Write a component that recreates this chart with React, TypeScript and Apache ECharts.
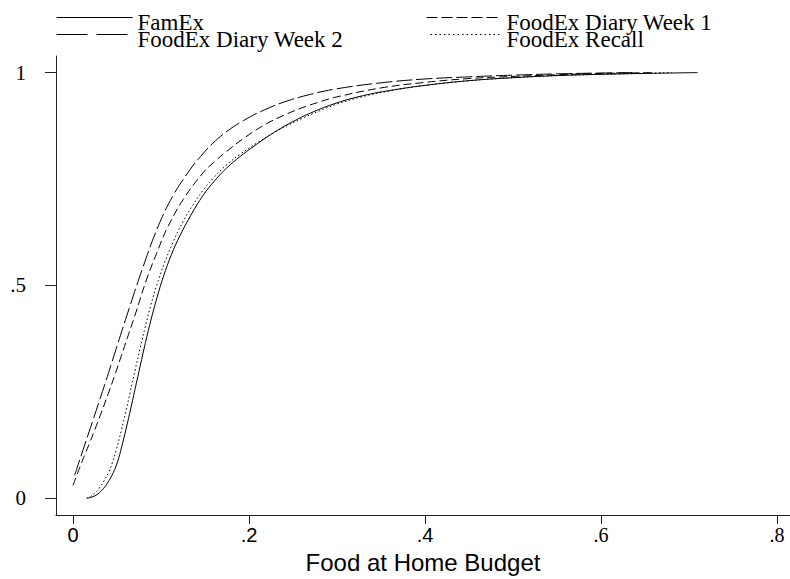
import React, { useEffect, useRef } from "react";
import * as echarts from "echarts";

const seriesNames = ["FamEx", "FoodEx Diary Week 1", "FoodEx Diary Week 2", "FoodEx Recall"];

const xTicks = [0, 0.2, 0.4, 0.6, 0.8];
const xTickLabels = ["0", ".2", ".4", ".6", ".8"];
const yTicks = [0, 0.5, 1];
const yTickLabels = ["0", ".5", "1"];

const famex: number[][] = [
  [0.016, 0], [0.022, 0.003], [0.027, 0.008], [0.0326, 0.018], [0.039, 0.035], [0.0458, 0.06],
  [0.051, 0.088], [0.055, 0.118], [0.06, 0.16], [0.066, 0.214], [0.072, 0.27], [0.078, 0.326],
  [0.084, 0.38], [0.09, 0.43], [0.096, 0.475], [0.1026, 0.52], [0.112, 0.573], [0.1216, 0.617],
  [0.134, 0.665], [0.148, 0.712], [0.161, 0.746], [0.1747, 0.776], [0.19, 0.803], [0.2049, 0.826],
  [0.22, 0.848], [0.2352, 0.868], [0.25, 0.885], [0.27, 0.905], [0.3, 0.929], [0.33, 0.946],
  [0.36, 0.958], [0.4, 0.97], [0.45, 0.981], [0.5, 0.988], [0.55, 0.993], [0.6, 0.996],
  [0.65, 0.998], [0.71, 1],
];

const diaryWeek1: number[][] = [
  [0, 0.03], [0.004, 0.052], [0.008, 0.074], [0.013, 0.1], [0.0185, 0.128], [0.025, 0.162],
  [0.032, 0.2], [0.04, 0.245], [0.048, 0.292], [0.055, 0.335], [0.062, 0.378], [0.07, 0.427],
  [0.0838, 0.515], [0.095, 0.575], [0.1065, 0.632], [0.1253, 0.702], [0.148, 0.765], [0.16, 0.789],
  [0.1747, 0.815], [0.195, 0.847], [0.22, 0.88], [0.24, 0.9], [0.26, 0.917], [0.28, 0.931],
  [0.3, 0.943], [0.35, 0.964], [0.4, 0.977], [0.45, 0.986], [0.5, 0.991], [0.55, 0.995],
  [0.6, 0.998], [0.66, 1],
];

const diaryWeek2: number[][] = [
  [0.002, 0.054], [0.006, 0.08], [0.0117, 0.115], [0.017, 0.148], [0.023, 0.185], [0.03, 0.229],
  [0.037, 0.273], [0.044, 0.318], [0.054, 0.383], [0.0648, 0.452], [0.0799, 0.545], [0.097, 0.64],
  [0.114, 0.712], [0.133, 0.772], [0.145, 0.803], [0.159, 0.834], [0.175, 0.862], [0.1935, 0.887],
  [0.215, 0.91], [0.24, 0.931], [0.27, 0.949], [0.3, 0.962], [0.35, 0.976], [0.4, 0.985],
  [0.45, 0.99], [0.5, 0.994], [0.55, 0.997], [0.6, 0.999], [0.64, 1],
];

const recall: number[][] = [
  [0.0155, 0], [0.02, 0.004], [0.025, 0.012], [0.03, 0.024], [0.035, 0.04], [0.041, 0.063],
  [0.045, 0.085], [0.049, 0.112], [0.055, 0.16], [0.06, 0.203], [0.065, 0.249], [0.0705, 0.3],
  [0.076, 0.35], [0.082, 0.402], [0.088, 0.45], [0.0951, 0.5], [0.104, 0.553], [0.114, 0.603],
  [0.125, 0.65], [0.1367, 0.69], [0.148, 0.724], [0.1594, 0.752], [0.175, 0.784], [0.1898, 0.808],
  [0.21, 0.836], [0.2276, 0.858], [0.245, 0.877], [0.26, 0.892], [0.28, 0.91], [0.3, 0.926],
  [0.33, 0.944], [0.36, 0.957], [0.4, 0.97], [0.45, 0.981], [0.5, 0.988], [0.55, 0.993],
  [0.6, 0.996], [0.68, 1],
];

const SERIF = "'Liberation Serif', 'Times New Roman', serif";
const SANS = "'Liberation Sans', Arial, sans-serif";

export default function App() {
  const ref = useRef<HTMLDivElement>(null);
  useEffect(() => {
    document.body.style.margin = "0";
    if (!ref.current) return;
    const chart = echarts.init(ref.current, null, { renderer: "svg" });

    const lineSeries = (name: string, data: number[][], type: any) => ({
      name,
      type: "line",
      data,
      symbol: "none",
      showSymbol: false,
      smooth: 0.4,
      lineStyle: { color: "#000", width: 1, type },
      itemStyle: { color: "#000" },
      silent: true,
    });

    const legendBase = (name: string, left: number, top: number, width: number, dash: any, padLeft: number) => ({
      data: [name],
      left,
      top,
      orient: "horizontal",
      itemWidth: width,
      itemHeight: 10,
      padding: 0,
      selectedMode: false,
      lineStyle: { color: "#000", width: 1, type: dash },
      itemStyle: { color: "#000", opacity: 0 },
      formatter: (n: string) => `{t|${n}}`,
      textStyle: {
        color: "#000",
        rich: {
          t: {
            fontFamily: SERIF,
            fontSize: 23,
            color: "#000",
            lineHeight: 18,
            padding: [10, 0, 0, padLeft],
          },
        },
      },
    });

    const labelFormatter = (v: number) => {
      const i = xTicks.findIndex((t) => Math.abs(t - v) < 1e-6);
      if (i < 0) return "";
      return i < 3 ? `{s|${xTickLabels[i]}}` : `{r|${xTickLabels[i]}}`;
    };

    chart.setOption({
      animation: false,
      backgroundColor: "#fff",
      grid: { left: 56, right: 0, top: 56, bottom: 61, containLabel: false },
      legend: [
        legendBase(seriesNames[0], 56, 1, 76, "solid", 0),
        legendBase(seriesNames[1], 426, 1, 75, [11, 4], 0),
        legendBase(seriesNames[2], 56, 18, 71, [31, 9], 5),
        legendBase(seriesNames[3], 430, 18, 71, [1.5, 3], 0),
      ],
      xAxis: {
        type: "value",
        min: -0.0193,
        max: 0.8148,
        name: "Food at Home Budget",
        nameLocation: "middle",
        nameGap: 30,
        nameTextStyle: { fontFamily: SANS, fontSize: 24, color: "#000" },
        splitLine: { show: false },
        axisLine: { show: true, onZero: false, lineStyle: { color: "#222", width: 1 } },
        axisTick: { show: true, length: 9, customValues: xTicks, lineStyle: { color: "#222", width: 1 } },
        axisLabel: {
          customValues: xTicks,
          margin: 10,
          formatter: labelFormatter,
          rich: {
            s: { fontFamily: SANS, fontSize: 20, color: "#000" },
            r: { fontFamily: SERIF, fontSize: 20, color: "#000" },
          },
        },
      },
      yAxis: {
        type: "value",
        min: -0.0397,
        max: 1.039,
        splitLine: { show: false },
        axisLine: { show: true, onZero: false, lineStyle: { color: "#222", width: 1 } },
        axisTick: { show: true, length: 11, customValues: yTicks, lineStyle: { color: "#222", width: 1 } },
        axisLabel: {
          customValues: yTicks,
          margin: 30,
          fontFamily: SERIF,
          fontSize: 21,
          color: "#000",
          formatter: (v: number) => {
            const i = yTicks.findIndex((t) => Math.abs(t - v) < 1e-6);
            return i < 0 ? "" : yTickLabels[i];
          },
        },
      },
      series: [
        lineSeries(seriesNames[0], famex, "solid"),
        lineSeries(seriesNames[1], diaryWeek1, [8, 4]),
        lineSeries(seriesNames[2], diaryWeek2, [16, 4]),
        lineSeries(seriesNames[3], recall, [1.5, 2.5]),
      ],
    });
    return () => chart.dispose();
  }, []);
  return <div ref={ref} style={{ width: 790, height: 579 }} />;
}
